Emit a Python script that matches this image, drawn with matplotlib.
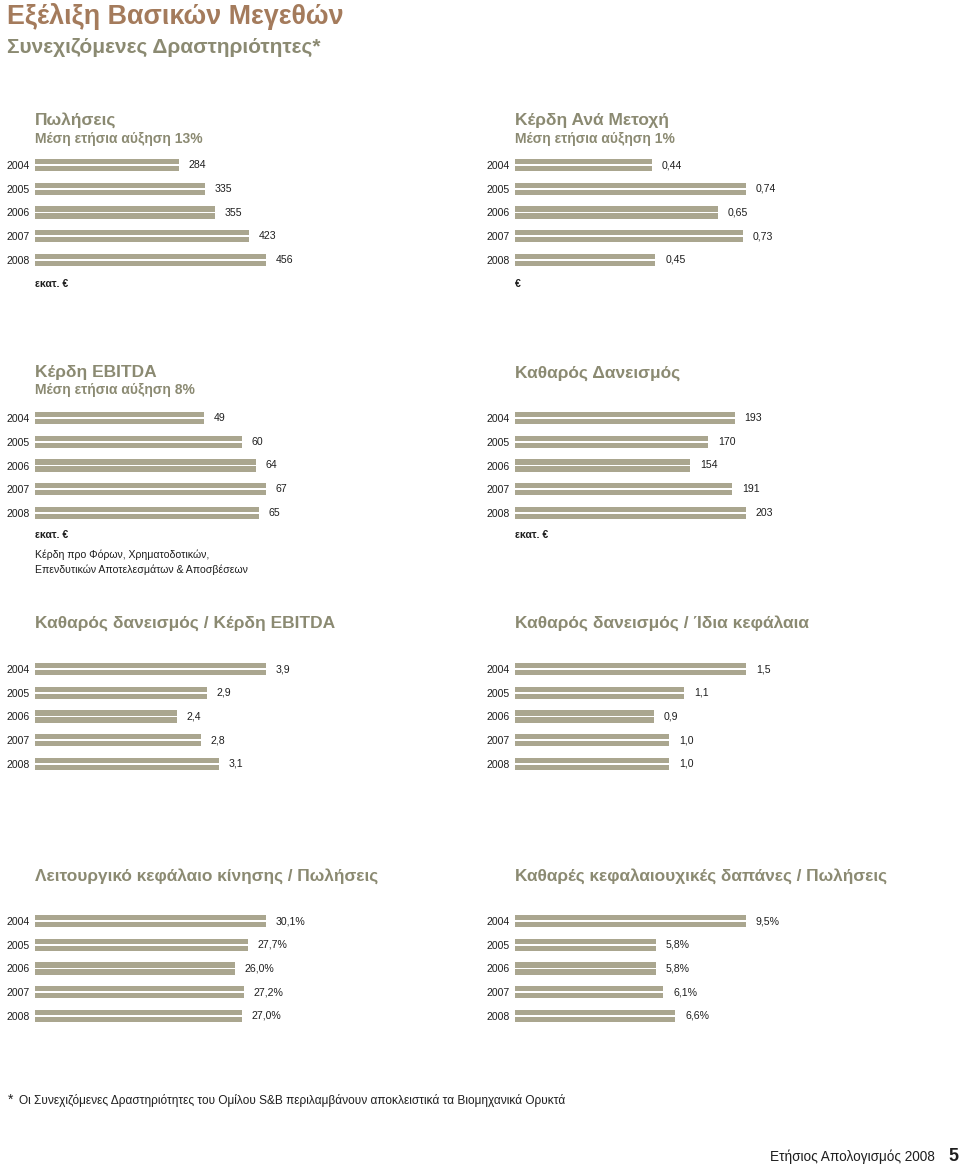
import matplotlib
matplotlib.use("Agg")
import matplotlib.pyplot as plt

plt.rcParams['font.family'] = ['Liberation Sans', 'DejaVu Sans']

W, H = 960, 1166
BAR = '#aaa68f'
OLIVE = '#8b8a72'
BROWN = '#a47b5c'
TXT = '#1e1e1e'

years = ['2004', '2005', '2006', '2007', '2008']

# values per panel
sales = [284, 335, 355, 423, 456]
eps = [0.44, 0.74, 0.65, 0.73, 0.45]
ebitda = [49, 60, 64, 67, 65]
net_debt = [193, 170, 154, 191, 203]
nd_ebitda = [3.9, 2.9, 2.4, 2.8, 3.1]
nd_equity = [1.5, 1.1, 0.9, 1.0, 1.0]
wc_sales = [30.1, 27.7, 26.0, 27.2, 27.0]
capex_sales = [9.5, 5.8, 5.8, 6.1, 6.6]

fig = plt.figure(figsize=(W / 100, H / 100), dpi=100)


def fx(x):
    return x / W


def fy(y):
    return 1 - y / H


def txt(x, y, s, size, color=TXT, weight='normal', **kw):
    # y is the baseline in pixels from the top
    fig.text(fx(x), fy(y), s, fontsize=size, color=color, fontweight=weight,
             va='baseline', ha=kw.pop('ha', 'left'), **kw)


def comma(v, digits, suffix=''):
    return f"{v:.{digits}f}".replace('.', ',') + suffix


def bar_panel(left, first_row, values, labels, pitch=23.75):
    ax_w = 330
    top = first_row - pitch / 2
    ax = fig.add_axes([fx(left), fy(top + pitch * 5), fx(ax_w), pitch * 5 / H])
    ypos = list(range(len(values)))
    for off in (-0.15, 0.15):
        ax.barh([y + off for y in ypos], values, height=0.22, color=BAR, linewidth=0)
    ax.set_xlim(0, max(values) * ax_w / 231)
    ax.set_ylim(len(values) - 0.5, -0.5)
    ax.set_yticks(ypos, years)
    ax.tick_params(axis='y', length=0, pad=4, labelsize=7.6, labelcolor=TXT)
    ax.set_xticks([])
    for s in ax.spines.values():
        s.set_visible(False)
    ax.patch.set_alpha(0)
    for y, v, t in zip(ypos, values, labels):
        ax.annotate(t, (v, y), xytext=(7, 0), textcoords='offset points',
                    va='center', fontsize=7.6, color=TXT)
    return ax


# page heading
txt(7, 24, 'Εξέλιξη Βασικών Μεγεθών', 19.4, BROWN, 'bold')
txt(7, 53, 'Συνεχιζόμενες Δραστηριότητες*', 15, OLIVE, 'bold')

L, R = 35, 515

# row 1
txt(L, 125, 'Πωλήσεις', 12.5, OLIVE, 'bold')
txt(L, 143, 'Μέση ετήσια αύξηση 13%', 10, OLIVE, 'bold')
bar_panel(L, 165, sales, [str(v) for v in sales])
txt(L, 287, 'εκατ. €', 7.6, TXT, 'bold')

txt(R, 125, 'Κέρδη Ανά Μετοχή', 12.5, OLIVE, 'bold')
txt(R, 143, 'Μέση ετήσια αύξηση 1%', 10, OLIVE, 'bold')
bar_panel(R, 165, eps, [comma(v, 2) for v in eps])
txt(R, 287, '€', 7.6, TXT, 'bold')

# row 2
txt(L, 377, 'Κέρδη EBITDA', 12.5, OLIVE, 'bold')
txt(L, 394, 'Μέση ετήσια αύξηση 8%', 10, OLIVE, 'bold')
bar_panel(L, 418, ebitda, [str(v) for v in ebitda])
txt(L, 538, 'εκατ. €', 7.6, TXT, 'bold')
txt(L, 558, 'Κέρδη προ Φόρων, Χρηματοδοτικών,', 7.6)
txt(L, 573, 'Επενδυτικών Αποτελεσμάτων & Αποσβέσεων', 7.6)

txt(R, 378, 'Καθαρός Δανεισμός', 12.5, OLIVE, 'bold')
bar_panel(R, 418, net_debt, [str(v) for v in net_debt])
txt(R, 538, 'εκατ. €', 7.6, TXT, 'bold')

# row 3
txt(L, 628, 'Καθαρός δανεισμός / Κέρδη EBITDA', 12.5, OLIVE, 'bold')
bar_panel(L, 669, nd_ebitda, [comma(v, 1) for v in nd_ebitda])
txt(R, 628, 'Καθαρός δανεισμός / Ίδια κεφάλαια', 12.5, OLIVE, 'bold')
bar_panel(R, 669, nd_equity, [comma(v, 1) for v in nd_equity])

# row 4
txt(L, 881, 'Λειτουργικό κεφάλαιο κίνησης / Πωλήσεις', 12.4, OLIVE, 'bold')
bar_panel(L, 921, wc_sales, [comma(v, 1, '%') for v in wc_sales])
txt(R, 881, 'Καθαρές κεφαλαιουχικές δαπάνες / Πωλήσεις', 12.4, OLIVE, 'bold')
bar_panel(R, 921, capex_sales, [comma(v, 1, '%') for v in capex_sales])

# footnote and footer
txt(8, 1104, '*', 10)
txt(19, 1104, 'Οι Συνεχιζόμενες Δραστηριότητες του Ομίλου S&B περιλαμβάνουν αποκλειστικά τα Βιομηχανικά Ορυκτά', 8.6)
txt(935, 1161, 'Ετήσιος Απολογισμός 2008', 9.8, ha='right')
txt(958, 1161, '5', 13, weight='bold', ha='right')

fig.savefig('out.png', dpi=100)
